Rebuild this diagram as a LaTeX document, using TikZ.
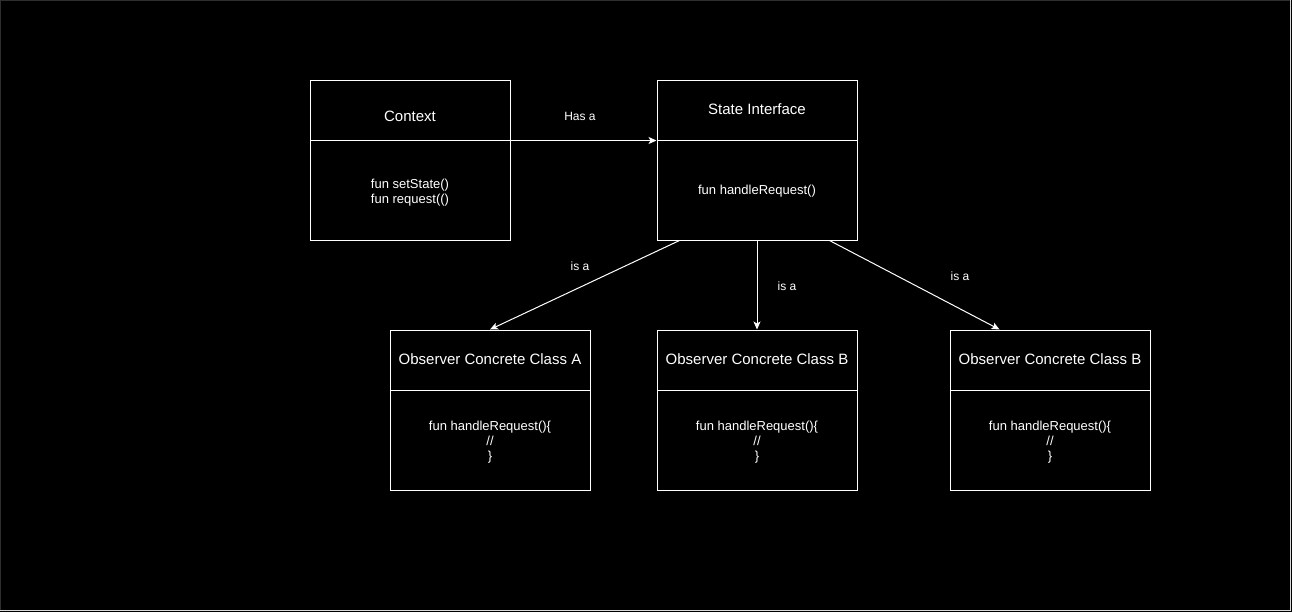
\documentclass[tikz,border=0pt]{standalone}
\usepackage{fontspec}
\setmainfont{Liberation Sans}
\usetikzlibrary{arrows.meta,calc}
\begin{document}
\begin{tikzpicture}[x=0.75pt,y=-0.75pt,
  box/.style={draw=white,line width=0.75pt,minimum width=150pt,inner sep=0pt},
  head/.style={box,minimum height=45pt},
  body/.style={box,minimum height=75pt},
  ttl/.style={text=white,font=\fontsize{11.25pt}{13.5pt}\selectfont,inner sep=0pt},
  txt/.style={text=white,font=\fontsize{9.75pt}{11.25pt}\selectfont,align=center,inner sep=0pt},
  lbl/.style={text=white,font=\fontsize{9pt}{10.8pt}\selectfont,inner sep=0pt},
  conn/.style={draw=white,line width=0.75pt,-{Stealth[length=6pt,width=5.25pt,inset=1.5pt]}}]
\fill[black] (0,0) rectangle (1292,612);
\useasboundingbox (0,0) rectangle (1292,612);
\draw[white!85!black,line width=0.75pt] (1290.5,0) -- (1290.5,610.5) -- (0,610.5);
\draw[black!82!white,line width=0.5pt] (0.5,610) -- (0.5,0.5) -- (1290,0.5);

% boxes
\node[head] (ctxh) at (410,110) {};
\node[body] (ctxb) at (410,190) {};
\node[head] (sth) at (757,110) {};
\node[body] (stb) at (757,190) {};
\node[head] (ah) at (490,360) {};
\node[body] (ab) at (490,440) {};
\node[head] (bh) at (757,360) {};
\node[body] (bb) at (757,440) {};
\node[head] (ch) at (1050,360) {};
\node[body] (cb) at (1050,440) {};

% texts
\node[ttl] (ctxt) at (410,116) {Context};
\node[txt] (ctxm) at (410,193) {fun setState()\\fun request(()};
\node[ttl] (stt) at (757,109) {State Interface};
\node[txt] (stm) at (757,191.5) {fun handleRequest()};
\node[ttl] (at) at (490,359) {Observer Concrete Class A};
\node[txt] (am) at (490,442.5) {fun handleRequest()\{\\//\\\}};
\node[ttl] (bt) at (757,359) {Observer Concrete Class B};
\node[txt] (bm) at (757,442.5) {fun handleRequest()\{\\//\\\}};
\node[ttl] (ct) at (1050,359) {Observer Concrete Class B};
\node[txt] (cm) at (1050,442.5) {fun handleRequest()\{\\//\\\}};

% connectors
\coordinate (s1) at ($(stb.south west)+(23,0)$);
\coordinate (s3) at ($(stb.south west)+(173,0)$);
\coordinate (t3) at ($(ch.north west)+(50,0)$);
\draw[conn] (ctxh.south east) -- (sth.south west);
\draw[conn] (s1) -- (ah.north);
\draw[conn] (stb.south) -- (bh.north);
\draw[conn] (s3) -- (t3);

% labels
\node[lbl] (l0) at (580,116) {Has a};
\node[lbl] (l1) at (580,266) {is a};
\node[lbl] (l2) at (787,286) {is a};
\node[lbl] (l3) at (960,276) {is a};
\end{tikzpicture}
\end{document}
